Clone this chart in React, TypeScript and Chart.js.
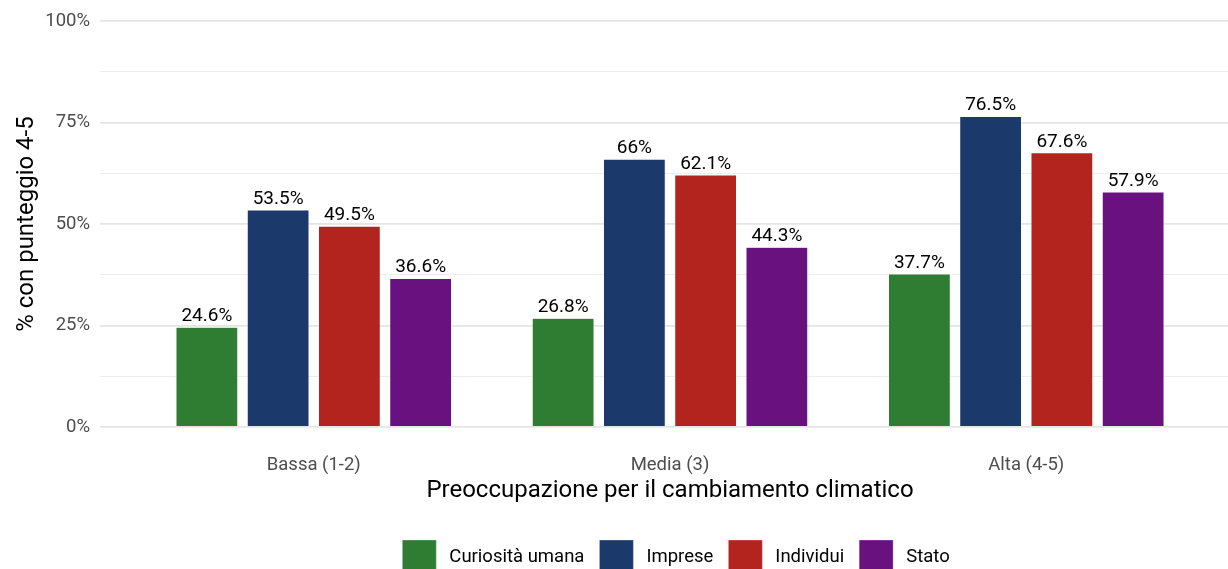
import React, { useEffect, useRef } from 'react';
import { Chart, registerables } from 'chart.js';

Chart.register(...registerables);

const categories = ['Bassa (1-2)', 'Media (3)', 'Alta (4-5)'];
const seriesNames = ['Curiosità umana', 'Imprese', 'Individui', 'Stato'];
const curiositaUmana = [24.6, 26.8, 37.7];
const imprese = [53.5, 66.0, 76.5];
const individui = [49.5, 62.1, 67.6];
const stato = [36.6, 44.3, 57.9];
const seriesColors = ['#2E7D32', '#1B3A6B', '#B3241F', '#6A1180'];
const yMajorTicks = [0, 25, 50, 75, 100];

const FONT = 'Roboto';

const fmt = (v: number) => `${parseFloat(v.toFixed(1))}%`;

const labelPlugin = {
  id: 'barLabels',
  afterDatasetsDraw(chart: any) {
    const ctx = chart.ctx;
    ctx.save();
    ctx.font = `19px ${FONT}`;
    ctx.fillStyle = '#000000';
    ctx.textAlign = 'center';
    ctx.textBaseline = 'alphabetic';
    chart.data.datasets.forEach((ds: any, di: number) => {
      const meta = chart.getDatasetMeta(di);
      meta.data.forEach((el: any, i: number) => {
        const v = ds.data[i].y;
        ctx.fillText(fmt(v), el.x, el.y - 6);
      });
    });
    ctx.restore();
  },
};

// centre the legend over the same point as the reference
const legendShift = {
  id: 'legendShift',
  afterLayout(chart: any) {
    const l = chart.legend;
    if (l) {
      l.left += 6;
      l.right += 6;
    }
  },
};

export default function App() {
  const ref = useRef<HTMLCanvasElement | null>(null);

  useEffect(() => {
    if (!ref.current) return;
    const allSeries = [curiositaUmana, imprese, individui, stato];
    const chart = new Chart(ref.current, {
      type: 'bar',
      data: {
        datasets: allSeries.map((vals, si) => ({
          label: seriesNames[si],
          data: vals.map((v, i) => ({ x: i, y: v })),
          backgroundColor: seriesColors[si],
          borderColor: 'rgba(255,255,255,0.55)',
          borderWidth: 0.6,
          categoryPercentage: 0.8,
          barPercentage: 0.87,
        })),
      },
      options: {
        responsive: false,
        devicePixelRatio: 1,
        animation: false,
        layout: { padding: { top: 21, left: 0, right: 0, bottom: 0 } },
        plugins: {
          tooltip: { enabled: false },
          legend: {
            position: 'bottom',
            fullSize: false,
            align: 'center',
            labels: {
              boxWidth: 34,
              boxHeight: 34,
              padding: 15,
              color: '#000000',
              font: { family: FONT, size: 18.5 },
              generateLabels: (chart: any) =>
                Chart.defaults.plugins.legend.labels
                  .generateLabels(chart)
                  .map((item: any) => ({ ...item, text: '\u2009' + item.text })),
            },
          },
        },
        scales: {
          x: {
            type: 'linear',
            offset: false,
            min: -0.6,
            max: 2.6,
            afterBuildTicks: (scale: any) => {
              scale.ticks = categories.map((_, i) => ({ value: i }));
            },
            afterFit: (scale: any) => {
              scale.height = 98;
            },
            ticks: {
              autoSkip: false,
              maxRotation: 0,
              padding: 27,
              color: '#4D4D4D',
              font: { family: FONT, size: 18.5 },
              callback: (v: any) => categories[Math.round(Number(v))] ?? '',
            },
            grid: { display: false, drawTicks: false, offset: false },
            border: { display: false },
            title: {
              display: true,
              text: 'Preoccupazione per il cambiamento climatico',
              color: '#000000',
              font: { family: FONT, size: 24 },
              padding: { top: 0, bottom: 20 },
            },
          },
          y: {
            min: 0,
            max: 100,
            afterFit: (scale: any) => {
              scale.width = 100;
            },
            ticks: {
              stepSize: 12.5,
              autoSkip: false,
              padding: 10,
              color: '#4D4D4D',
              font: { family: FONT, size: 18.5 },
              callback: (v: any) => (yMajorTicks.includes(Number(v)) ? `${v}%` : ''),
            },
            grid: {
              drawTicks: false,
              color: (ctx: any) => (ctx.tick && ctx.tick.value % 25 === 0 ? '#E5E5E5' : '#EDEDED'),
              lineWidth: (ctx: any) => (ctx.tick && ctx.tick.value % 25 === 0 ? 1.8 : 1.1),
            },
            border: { display: false },
            title: {
              display: true,
              text: '% con punteggio 4-5',
              color: '#000000',
              font: { family: FONT, size: 24 },
              padding: { top: 12.4, bottom: 5 },
            },
          },
        },
      },
      plugins: [labelPlugin, legendShift],
    } as any);
    return () => chart.destroy();
  }, []);

  return (
    <div
      style={{
        position: 'fixed',
        left: 0,
        top: 0,
        width: 1228,
        height: 569,
        overflow: 'hidden',
        background: '#ffffff',
      }}
    >
      <canvas ref={ref} width={1240} height={584} style={{ display: 'block' }} />
    </div>
  );
}
